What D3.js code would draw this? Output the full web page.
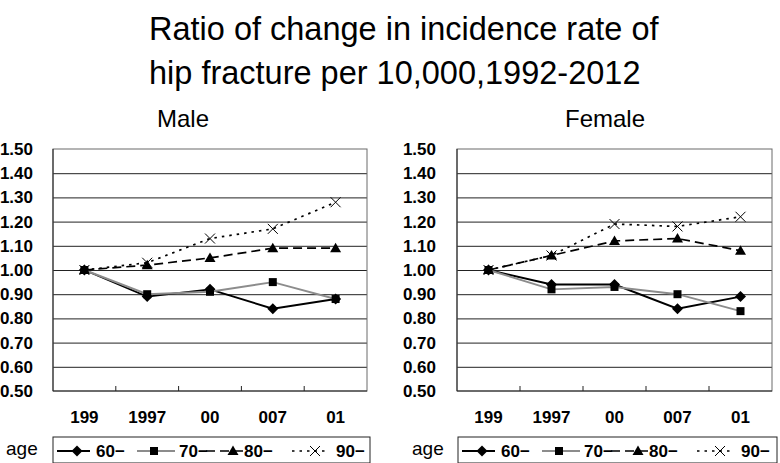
<!DOCTYPE html>
<meta charset="utf-8">
<style>
    body { margin: 0; background: #fff; }
    text { font-family: "Liberation Sans", Arial, sans-serif; fill: #000; }
    .grid line { stroke: #222; stroke-width: 1; }
    .grid path { display: none; }
    .ylab text { font-size: 17px; font-weight: bold; }
    .xlab text { font-size: 17px; font-weight: bold; }
    .leg text { font-size: 17px; font-weight: bold; }
</style>
<svg width="780" height="463"></svg>
<script src="https://d3js.org/d3.v7.min.js"></script>
<script>

    var categories = ["199", "1997", "00", "007", "01"];
    var yTicks = [0.5, 0.6, 0.7, 0.8, 0.9, 1.0, 1.1, 1.2, 1.3, 1.4, 1.5];
    var ageGroups = ["60\u2212", "70\u2212", "80\u2212", "90\u2212"];

    var male60 = [1.00, 0.89, 0.92, 0.84, 0.88];
    var male70 = [1.00, 0.90, 0.91, 0.95, 0.88];
    var male80 = [1.00, 1.02, 1.05, 1.09, 1.09];
    var male90 = [1.00, 1.03, 1.13, 1.17, 1.28];

    var female60 = [1.00, 0.94, 0.94, 0.84, 0.89];
    var female70 = [1.00, 0.92, 0.93, 0.90, 0.83];
    var female80 = [1.00, 1.06, 1.12, 1.13, 1.08];
    var female90 = [1.00, 1.06, 1.19, 1.18, 1.22];

    var svg = d3.select("svg");

    // line style + marker for each age group
    var styles = [
        {stroke: "#000", width: 1.9, dash: null, marker: "diamond"},
        {stroke: "#8c8c8c", width: 1.9, dash: null, marker: "square"},
        {stroke: "#000", width: 1.7, dash: "9,5", marker: "triangle"},
        {stroke: "#000", width: 1.7, dash: "2.5,5", marker: "x"}
    ];

    svg.append("text")
            .attr("x", 149).attr("y", 40)
            .style("font-size", "32.5px")
            .text("Ratio of change in incidence rate of");
    svg.append("text")
            .attr("x", 149).attr("y", 84)
            .style("font-size", "32.5px")
            .text("hip fracture per 10,000,1992-2012");

    function markerPath(type, cx, cy) {
        if (type === "diamond") {
            var d = 5.5;
            return "M" + cx + "," + (cy - d) + "L" + (cx + d) + "," + cy + "L" + cx + "," + (cy + d) + "L" + (cx - d) + "," + cy + "Z";
        }
        if (type === "square") {
            var h = 4;
            return "M" + (cx - h) + "," + (cy - h) + "h" + 2 * h + "v" + 2 * h + "h" + -2 * h + "Z";
        }
        if (type === "triangle") {
            return "M" + cx + "," + (cy - 5.5) + "L" + (cx + 5.5) + "," + (cy + 4) + "L" + (cx - 5.5) + "," + (cy + 4) + "Z";
        }
        var s = 5;
        return "M" + (cx - s) + "," + (cy - s) + "L" + (cx + s) + "," + (cy + s) +
                "M" + (cx - s) + "," + (cy + s) + "L" + (cx + s) + "," + (cy - s);
    }

    function drawMarker(g, style, cx, cy) {
        var p = g.append("path").attr("d", markerPath(style.marker, cx, cy));
        if (style.marker === "x") {
            p.attr("stroke", "#000").attr("stroke-width", 1).attr("fill", "none");
        } else {
            p.attr("fill", "#000");
        }
    }

    function drawPanel(opts) {
        var left = opts.left, right = opts.right, top = 149, bottom = 391;

        var x = d3.scaleBand().domain(categories).range([left, right]);
        var y = d3.scaleLinear().domain([0.5, 1.5]).range([bottom, top]);
        var cx = function(c) { return x(c) + x.bandwidth() / 2; };

        svg.append("text")
                .attr("x", opts.titleX).attr("y", 127)
                .style("font-size", "24px")
                .text(opts.title);

        // gridlines
        svg.append("g")
                .attr("class", "grid")
                .attr("transform", "translate(" + left + ",0)")
                .call(d3.axisLeft(y).tickValues(yTicks.slice(1, -1)).tickSize(-(right - left)).tickFormat(""));

        // frame
        svg.append("rect")
                .attr("x", left).attr("y", top)
                .attr("width", right - left).attr("height", bottom - top)
                .attr("fill", "none").attr("stroke", "#6a6a6a").attr("stroke-width", 1);
        svg.append("path")
                .attr("d", "M" + left + "," + top + "V" + bottom + "H" + right)
                .attr("stroke", "#222").attr("fill", "none");

        // category boundary ticks, pointing up from the bottom
        svg.append("g").selectAll("line")
                .data(categories.slice(1))
                .enter().append("line")
                .attr("x1", function(c) { return x(c); })
                .attr("x2", function(c) { return x(c); })
                .attr("y1", bottom).attr("y2", bottom - 5)
                .attr("stroke", "#222");

        // y labels
        var yAxis = svg.append("g")
                .attr("class", "ylab")
                .attr("transform", "translate(" + left + ",0)")
                .call(d3.axisLeft(y).tickValues(yTicks).tickSize(0).tickPadding(opts.yPad).tickFormat(d3.format(".2f")));
        yAxis.select(".domain").remove();
        yAxis.selectAll("text").attr("fill", "#000").style("font-family", "'Liberation Sans', Arial, sans-serif");

        // x labels
        var xAxis = svg.append("g")
                .attr("class", "xlab")
                .attr("transform", "translate(0," + bottom + ")")
                .call(d3.axisBottom(x).tickSize(0).tickPadding(20));
        xAxis.select(".domain").remove();
        xAxis.selectAll("text").attr("fill", "#000").style("font-family", "'Liberation Sans', Arial, sans-serif");

        // series
        opts.series.forEach(function(values, i) {
            var st = styles[i];
            var pts = categories.map(function(c, k) { return [cx(c), y(values[k])]; });
            var g = svg.append("g");
            g.append("path")
                    .attr("d", d3.line()(pts))
                    .attr("fill", "none")
                    .attr("stroke", st.stroke)
                    .attr("stroke-width", st.width)
                    .attr("stroke-dasharray", st.dash);
            pts.forEach(function(p) { drawMarker(g, st, p[0], p[1]); });
        });

        // legend
        var lx = opts.legendLeft, ly = 437;
        svg.append("text")
                .attr("x", opts.ageX).attr("y", 455)
                .style("font-size", "19px")
                .text("age");
        var leg = svg.append("g").attr("class", "leg");
        leg.append("rect")
                .attr("x", lx).attr("y", ly)
                .attr("width", opts.legendWidth).attr("height", 26)
                .attr("fill", "none").attr("stroke", "#222");
        var itemLine = [[4, 37, 24], [84, 122, 101], [153, 190, 180], [239, 276, 262]];
        var itemText = [43, 126, 191, 283];
        ageGroups.forEach(function(a, i) {
            var st = styles[i];
            var g = leg.append("g");
            g.append("line")
                    .attr("x1", lx + itemLine[i][0]).attr("x2", lx + itemLine[i][1])
                    .attr("y1", 451).attr("y2", 451)
                    .attr("stroke", st.stroke).attr("stroke-width", st.width)
                    .attr("stroke-dasharray", st.dash);
            drawMarker(g, st, lx + itemLine[i][2], 451);
            g.append("text")
                    .attr("x", lx + itemText[i]).attr("y", 457)
                    .text(a);
        });
    }

    drawPanel({
        title: "Male", titleX: 157,
        left: 53, right: 367, yPad: 20,
        legendLeft: 53, legendWidth: 317, ageX: 6,
        series: [male60, male70, male80, male90]
    });

    drawPanel({
        title: "Female", titleX: 565,
        left: 457, right: 772, yPad: 21,
        legendLeft: 458, legendWidth: 319, ageX: 412,
        series: [female60, female70, female80, female90]
    });

</script>
